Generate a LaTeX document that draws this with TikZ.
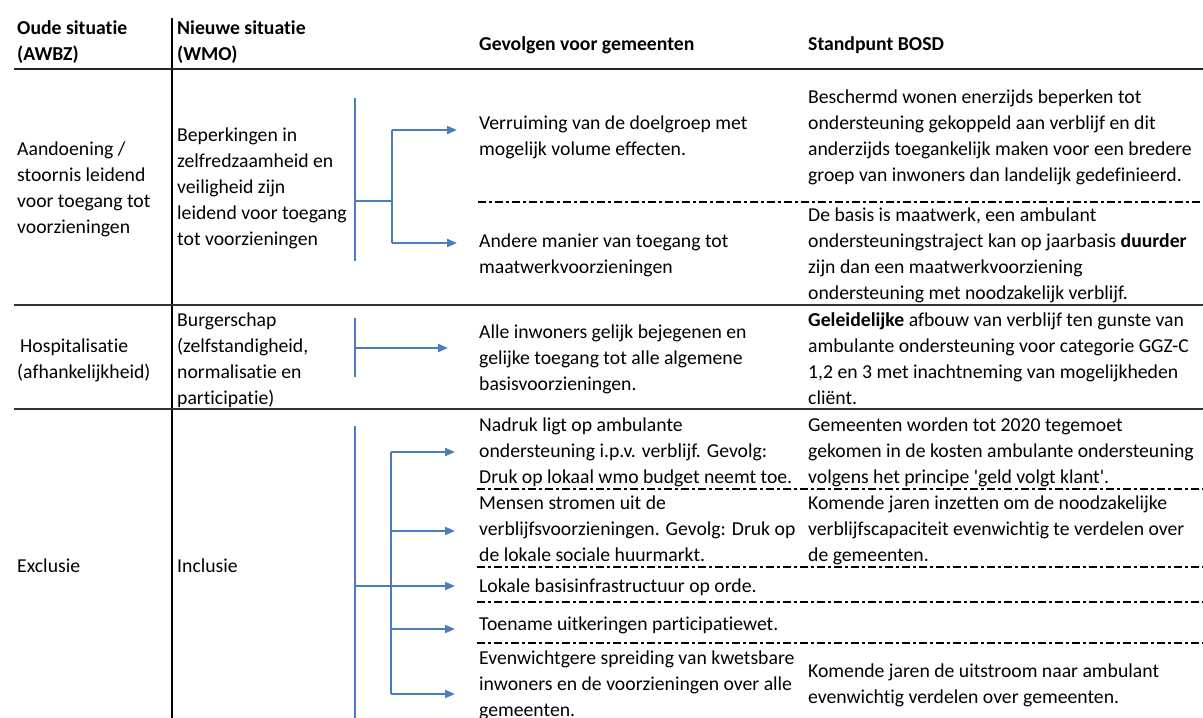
\documentclass[tikz,border=0pt]{standalone}
\usepackage{fontspec}
\setmainfont{Carlito}[Ligatures={NoCommon,TeXOff}]
\usetikzlibrary{arrows.meta}
\definecolor{wmoblue}{HTML}{4A7EBB}
\newcommand\bodyfont{\fontsize{19.7}{26}\selectfont}
\newcommand\fl{\rule{0pt}{18pt}}
\begin{document}
\begin{tikzpicture}[x=1pt,y=-1pt,
 txt/.style={anchor=north west, inner sep=0pt, align=left, font=\bodyfont},
 hdr/.style={txt, font=\bodyfont\bfseries},
 rowrule/.style={line width=1.8pt, black!80},
 headrule/.style={line width=2.6pt, black!85},
 colrule/.style={line width=1.8pt, black},
 sep/.style={line width=1.1pt, black, dash pattern=on 8pt off 3pt on 3pt off 3pt},
 spine/.style={line width=1.2pt, wmoblue},
 branch/.style={line width=2pt, wmoblue},
 arr/.style={branch, -{Triangle[length=10pt,width=8pt]}},
]
\useasboundingbox (0,0) rectangle (1203,718);
% header
\node[hdr] (hOld) at (17,16) {\fl Oude situatie\\(AWBZ)};
\node[hdr] (hNew) at (177,16) {\fl Nieuwe situatie\\(WMO)};
\node[hdr] (hCons) at (479,32) {\fl Gevolgen voor gemeenten};
\node[hdr] (hBosd) at (808,32) {\fl Standpunt BOSD};
% rules
\coordinate (colT) at (172,18);
\coordinate (colB) at (172,718);
\draw[colrule] (colT) -- (colB);
\coordinate (hrL) at (14,69); \coordinate (hrR) at (1203,69);
\draw[headrule] (hrL) -- (hrR);
\coordinate (r1L) at (14,305); \coordinate (r1R) at (1203,305);
\draw[rowrule] (r1L) -- (r1R);
\coordinate (r2L) at (14,409); \coordinate (r2R) at (1203,409);
\draw[rowrule] (r2L) -- (r2R);
% row 1
\node[txt] (a1) at (17,137) {\fl Aandoening /\\stoornis leidend\\voor toegang tot\\voorzieningen};
\node[txt] (b1) at (177,123) {\fl Beperkingen in\\zelfredzaamheid en\\veiligheid zijn\\leidend voor toegang\\tot voorzieningen};
\node[txt] (c1a) at (479,111) {\fl Verruiming van de doelgroep met\\mogelijk volume effecten.};
\node[txt] (c1b) at (479,229) {\fl Andere manier van toegang tot\\maatwerkvoorzieningen};
\node[txt] (d1a) at (808,85) {\fl Beschermd wonen enerzijds beperken tot\\ondersteuning gekoppeld aan verblijf en dit\\anderzijds toegankelijk maken voor een bredere\\groep van inwoners dan landelijk gedefinieerd.};
\node[txt] (d1b) at (808,203) {\fl De basis is maatwerk, een ambulant\\ondersteuningstraject kan op jaarbasis \textbf{duurder}\\zijn dan een maatwerkvoorziening\\ondersteuning met noodzakelijk verblijf.};
\coordinate (d1L) at (478,202); \coordinate (d1R) at (1203,202);
\draw[sep] (d1L) -- (d1R);
\coordinate (s1t) at (355,98); \coordinate (s1b) at (355,261);
\draw[spine] (s1t) -- (s1b);
\coordinate (hub1) at (355,201); \coordinate (k1) at (392,201);
\coordinate (k1t) at (392,130); \coordinate (k1b) at (392,243);
\draw[branch] (hub1) -- (k1);
\draw[branch] (k1t) -- (k1b);
\draw[arr, shorten >=22pt] (k1t) -- (k1t -| c1a.west);
\draw[arr, shorten >=22pt] (k1b) -- (k1b -| c1b.west);
% row 2
\node[txt] (a2) at (17,334) {\fl\hspace*{3pt}Hospitalisatie\\(afhankelijkheid)};
\node[txt] (b2) at (177,308) {\fl Burgerschap\\(zelfstandigheid,\\normalisatie en\\participatie)};
\node[txt] (c2) at (479,320) {\fl Alle inwoners gelijk bejegenen en\\gelijke toegang tot alle algemene\\basisvoorzieningen.};
\node[txt] (d2) at (808,308) {\fl\textbf{Geleidelijke} afbouw van verblijf ten gunste van\\ambulante ondersteuning voor categorie GGZ-C\\1,2 en 3 met inachtneming van mogelijkheden\\cliënt.};
\coordinate (s2t) at (355,318); \coordinate (s2b) at (355,377);
\draw[spine] (s2t) -- (s2b);
\coordinate (hub2) at (355,348);
\draw[arr, shorten >=31pt] (hub2) -- (hub2 -| c2.west);
% row 3
\node[txt] (a3) at (17,554) {\fl Exclusie};
\node[txt] (b3) at (177,554) {\fl Inclusie};
\node[txt] (c3a) at (479,413) {\fl Nadruk ligt op ambulante\\ondersteuning i.p.v. verblijf. Gevolg:\\Druk op lokaal wmo budget neemt toe.};
\node[txt] (c3b) at (479,491) {\fl Mensen stromen uit de\\verblijfsvoorzieningen. Gevolg: Druk op\\de lokale sociale huurmarkt.};
\node[txt] (c3c) at (479,574) {\fl Lokale basisinfrastructuur op orde.};
\node[txt] (c3d) at (479,612) {\fl Toename uitkeringen participatiewet.};
\node[txt] (c3e) at (479,646) {\fl Evenwichtgere spreiding van kwetsbare\\inwoners en de voorzieningen over alle\\gemeenten.};
\node[txt] (d3a) at (808,413) {\fl Gemeenten worden tot 2020 tegemoet\\gekomen in de kosten ambulante ondersteuning\\volgens het principe 'geld volgt klant'.};
\node[txt] (d3b) at (808,491) {\fl Komende jaren inzetten om de noodzakelijke\\verblijfscapaciteit evenwichtig te verdelen over\\de gemeenten.};
\node[txt] (d3e) at (808,659) {\fl Komende jaren de uitstroom naar ambulant\\evenwichtig verdelen over gemeenten.};
\coordinate (e1L) at (477,489); \coordinate (e1R) at (1203,489);
\coordinate (e2L) at (477,567); \coordinate (e2R) at (1203,567);
\coordinate (e3L) at (477,602); \coordinate (e3R) at (1203,602);
\coordinate (e4L) at (477,643); \coordinate (e4R) at (1203,643);
\draw[sep] (e1L) -- (e1R);
\draw[sep] (e2L) -- (e2R);
\draw[sep] (e3L) -- (e3R);
\draw[sep] (e4L) -- (e4R);
\coordinate (s3t) at (355,426); \coordinate (s3b) at (355,718);
\draw[spine] (s3t) -- (s3b);
\coordinate (k3t) at (391,452); \coordinate (k3b) at (391,694);
\coordinate (k3m) at (391,531); \coordinate (k3d) at (391,629);
\coordinate (hub3) at (355,586);
\draw[branch] (k3t) -- (k3b);
\draw[arr, shorten >=24pt] (k3t) -- (k3t -| c3a.west);
\draw[arr, shorten >=24pt] (k3m) -- (k3m -| c3b.west);
\draw[arr, shorten >=24pt] (hub3) -- (hub3 -| c3c.west);
\draw[arr, shorten >=24pt] (k3d) -- (k3d -| c3d.west);
\draw[arr, shorten >=24pt] (k3b) -- (k3b -| c3e.west);
\end{tikzpicture}
\end{document}
